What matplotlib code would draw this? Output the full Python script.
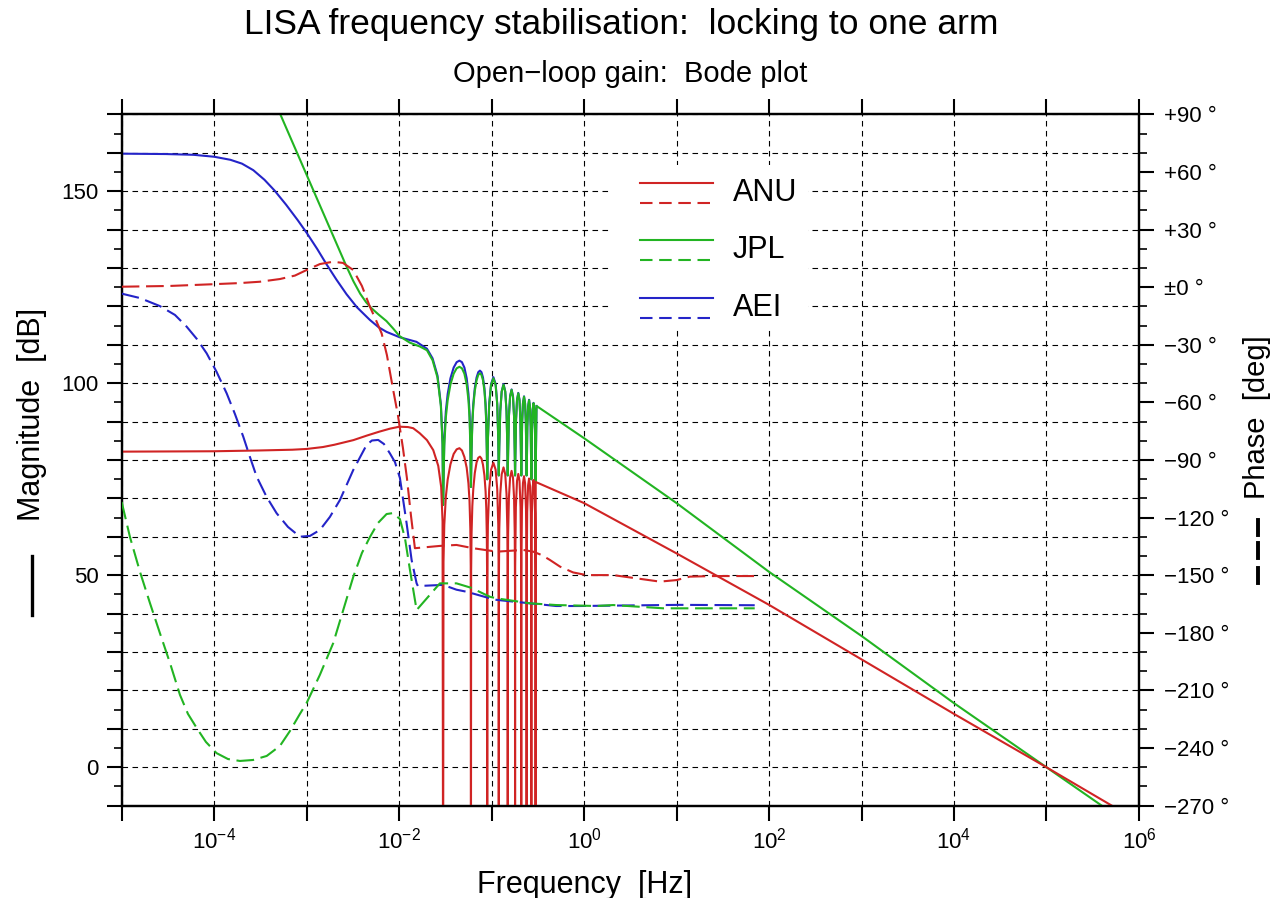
import numpy as np
import matplotlib
matplotlib.use("Agg")
import matplotlib.pyplot as plt
from matplotlib.ticker import FixedLocator, FuncFormatter, NullLocator, MultipleLocator
from matplotlib.lines import Line2D
from matplotlib.patches import Rectangle

plt.rcParams["font.family"] = ["Liberation Sans", "DejaVu Sans"]
plt.rcParams["mathtext.fontset"] = "custom"
plt.rcParams["mathtext.rm"] = "Liberation Sans"
plt.rcParams["mathtext.it"] = "Liberation Sans:italic"
plt.rcParams["mathtext.bf"] = "Liberation Sans:bold"

# ---------------------------------------------------------------- ANU (red)
anu_low_f = [1e-5, 1e-4, 3e-4, 7e-4, 1e-3, 1.5e-3, 2e-3, 3.2e-3, 4.5e-3, 6.1e-3, 8e-3,
             0.0101, 0.0125, 0.0142, 0.0167, 0.0200, 0.0234, 0.0265, 0.0285, 0.0295]
anu_low_db = [82.2, 82.3, 82.5, 82.7, 82.9, 83.4, 84.0, 85.2, 86.4, 87.4, 88.2,
              88.7, 88.6, 88.3, 87.0, 85.2, 82.6, 78.5, 73.0, 64.0]
anu_comb_f = [
    0.0299,
    0.0302, 0.0308, 0.0320, 0.0335, 0.0359, 0.0389, 0.0419, 0.0449, 0.0478, 0.0508,
    0.0538, 0.0562, 0.0577, 0.0589, 0.0595,
    0.0598,
    0.0601, 0.0607, 0.0619, 0.0634, 0.0658, 0.0688, 0.0718, 0.0748, 0.0777, 0.0807,
    0.0837, 0.0861, 0.0876, 0.0888, 0.0894,
    0.0897,
    0.0900, 0.0912, 0.0942, 0.0987, 0.1046, 0.1106, 0.1151, 0.1181, 0.1193,
    0.1196,
    0.1199, 0.1211, 0.1241, 0.1286, 0.1346, 0.1405, 0.1450, 0.1480, 0.1492,
    0.1495,
    0.1498, 0.1510, 0.1540, 0.1585, 0.1645, 0.1704, 0.1749, 0.1779, 0.1791,
    0.1794,
    0.1800, 0.1830, 0.1884, 0.1944, 0.2003, 0.2057, 0.2087,
    0.2093,
    0.2099, 0.2129, 0.2183, 0.2243, 0.2302, 0.2356, 0.2386,
    0.2392,
    0.2398, 0.2428, 0.2482, 0.2542, 0.2601, 0.2655, 0.2685,
    0.2691,
    0.2697, 0.2727, 0.2781, 0.2841, 0.2900, 0.2954, 0.2984,
    0.2990,
]
anu_comb_db = [
    -40,
    53.5, 63.1, 70.4, 74.9, 78.9, 81.6, 82.8, 83.1, 82.5, 80.8,
    78.0, 73.9, 69.4, 62.1, 52.5,
    -40,
    51.1, 60.7, 68.0, 72.5, 76.6, 79.4, 80.6, 80.9, 80.4, 78.8,
    76.0, 71.9, 67.4, 60.1, 50.5,
    -40,
    49.2, 63.2, 72.4, 77.5, 79.3, 77.5, 72.4, 63.2, 49.2,
    -40,
    48.0, 62.0, 71.2, 76.3, 78.1, 76.3, 71.2, 62.0, 48.0,
    -40,
    47.1, 61.1, 70.3, 75.4, 77.2, 75.4, 70.3, 61.1, 47.1,
    -40,
    52.4, 67.7, 74.6, 76.4, 74.6, 67.7, 52.4,
    -40,
    51.8, 67.1, 74.0, 75.8, 74.0, 67.1, 51.8,
    -40,
    51.2, 66.5, 73.4, 75.2, 73.4, 66.5, 51.2,
    -40,
    50.8, 66.1, 73.0, 74.8, 73.0, 66.1, 50.8,
    -40,
]
anu_high_f = [0.300, 1.0, 10.0, 100.0, 1e3, 1e4, 1e5, 6e5]
anu_high_db = [74.3, 68.8, 55.7, 42.3, 28.1, 13.9, 0.0, -11.0]

anu_phase_f = [1e-5, 3.33e-5, 9.7e-5, 1.9e-4, 3.13e-4, 5.14e-4, 7.47e-4, 1.0e-3,
               1.392e-3, 1.925e-3, 2.47e-3, 3.19e-3, 3.96e-3, 4.83e-3, 5.61e-3,
               6.47e-3, 7.38e-3, 8.63e-3, 9.7e-3, 0.0110, 0.01215, 0.01341, 0.01482,
               0.0276, 0.0417, 0.0632, 0.1135, 0.2196, 0.2816, 0.35, 0.4267, 0.55,
               0.76, 1.06, 2.06, 3.7, 6.6, 10.0, 13.9, 24.9, 70.0]
anu_phase_deg = [0.3, 0.7, 1.6, 2.2, 2.9, 4.3, 6.1, 9.0,
                 12.1, 13.3, 12.7, 9.0, 0.7, -10.1, -17.0,
                 -24.0, -35.3, -53.5, -66.5, -83.7, -99.4, -118.6, -135.9,
                 -134.7, -134.2, -135.9, -137.7, -136.8, -137.7, -139.5, -142.0, -145.5,
                 -148.5, -149.9, -149.9, -151.6, -153.3, -152.5, -150.7, -150.4, -150.4]

# ---------------------------------------------------------------- JPL (green)
jpl_low_f = [4.0e-4, 5.14e-4, 1.18e-3, 2.7e-3, 3.2e-3, 3.8e-3, 4.4e-3, 5.0e-3, 6.0e-3,
             7.3e-3, 8.6e-3, 0.0101, 0.0130, 0.0167, 0.0200, 0.0230, 0.0260, 0.0283,
             0.0295]
jpl_low_db = [176.3, 170.3, 150.3, 130.4, 126.6, 123.3, 121.1, 119.6, 117.9,
              116.2, 114.3, 112.3, 110.6, 109.6, 108.6, 106.0, 101.5, 94.0,
              84.0]
jpl_comb_f = [
    0.0299,
    0.0308, 0.0320, 0.0335, 0.0359, 0.0389, 0.0419, 0.0449, 0.0478, 0.0508, 0.0538,
    0.0562, 0.0577, 0.0589,
    0.0598,
    0.0607, 0.0619, 0.0634, 0.0658, 0.0688, 0.0718, 0.0748, 0.0777, 0.0807, 0.0837,
    0.0861, 0.0876, 0.0888,
    0.0897,
    0.0912, 0.0942, 0.0987, 0.1046, 0.1106, 0.1151, 0.1181,
    0.1196,
    0.1211, 0.1241, 0.1286, 0.1346, 0.1405, 0.1450, 0.1480,
    0.1495,
    0.1510, 0.1540, 0.1585, 0.1645, 0.1704, 0.1749, 0.1779,
    0.1794,
    0.1809, 0.1839, 0.1884, 0.1944, 0.2003, 0.2048, 0.2078,
    0.2093,
    0.2108, 0.2138, 0.2183, 0.2243, 0.2302, 0.2347, 0.2377,
    0.2392,
    0.2407, 0.2437, 0.2482, 0.2542, 0.2601, 0.2646, 0.2676,
    0.2691,
    0.2706, 0.2736, 0.2781, 0.2841, 0.2900, 0.2945, 0.2975,
    0.2990,
]
jpl_comb_db = [
    68.3,
    83.8, 91.1, 95.6, 99.7, 102.5, 103.9, 104.3, 103.9, 102.5, 99.7,
    95.6, 91.1, 83.8,
    73.0,
    82.1, 89.4, 93.9, 98.0, 100.8, 102.2, 102.6, 102.2, 100.8, 98.0,
    93.9, 89.4, 82.1,
    75.0,
    85.2, 94.4, 99.5, 101.3, 99.5, 94.4, 85.2,
    76.0,
    83.5, 92.7, 97.8, 99.6, 97.8, 92.7, 83.5,
    76.0,
    82.2, 91.4, 96.5, 98.3, 96.5, 91.4, 82.2,
    76.0,
    81.3, 90.5, 95.6, 97.4, 95.6, 90.5, 81.3,
    76.0,
    80.4, 89.6, 94.7, 96.5, 94.7, 89.6, 80.4,
    76.0,
    79.5, 88.7, 93.8, 95.6, 93.8, 88.7, 79.5,
    75.0,
    78.7, 87.9, 93.0, 94.8, 93.0, 87.9, 78.7,
    74.4,
]
jpl_high_f = [0.306, 1.0, 10.0, 100.0, 1e3, 1e4, 1e5, 6e5]
jpl_high_db = [94.1, 85.7, 68.8, 50.9, 34.2, 16.7, 0.0, -13.0]

jpl_phase_f = [1e-5, 1.23e-5, 1.58e-5, 2.02e-5, 2.59e-5, 3.33e-5, 4.27e-5, 5.21e-5,
               6.47e-5, 8.15e-5, 1.06e-4, 1.41e-4, 1.9e-4, 2.63e-4, 3.7e-4, 5.14e-4,
               6.6e-4, 8.46e-4, 1.0e-3, 1.39e-3, 1.94e-3, 2.47e-3, 3.19e-3, 3.96e-3,
               4.83e-3, 5.9e-3, 7.32e-3, 8.57e-3, 0.0102, 0.01156, 0.0131, 0.01546,
               0.0276, 0.0417, 0.060, 0.096, 0.113, 0.26, 0.5, 1.36, 2.06, 7.2, 10.8, 70.0]
jpl_phase_deg = [-111.8, -130.1, -148.3, -164.4, -180.1, -195.7, -212.3, -222.2,
                 -229.5, -236.8, -242.6, -245.7, -246.7, -246.2, -244.1, -238.9,
                 -231.1, -222.2, -216.5, -201.9, -185.3, -168.6, -150.9, -138.4,
                 -130.1, -122.8, -118.1, -117.6, -120.7, -130.6, -147.2, -168.1,
                 -154.2, -154.2, -156.5, -161.2, -162.0, -164.6, -165.5, -166.0, -165.5,
                 -167.2, -167.2, -167.2]

# ---------------------------------------------------------------- AEI (blue)
aei_low_f = [1e-5, 3e-5, 6e-5, 1e-4, 1.5e-4, 2e-4, 2.65e-4, 3.5e-4, 4.5e-4, 6e-4,
             8e-4, 1e-3, 1.3e-3, 1.64e-3, 2.1e-3, 2.7e-3, 3.5e-3, 4.83e-3, 6e-3,
             7.3e-3, 0.0101, 0.0154, 0.0200, 0.0230, 0.0260, 0.0283, 0.0295]
aei_low_db = [159.8, 159.7, 159.5, 159.0, 158.2, 157.2, 155.5, 153.0, 150.2, 146.5,
              142.5, 139.2, 135.0, 131.0, 127.0, 123.2, 119.8, 116.5, 114.6,
              113.4, 112.0, 110.8, 109.0, 106.5, 102.0, 94.5, 84.5]
aei_comb_f = [
    0.0299,
    0.0308, 0.0320, 0.0335, 0.0359, 0.0389, 0.0419, 0.0449, 0.0478, 0.0508, 0.0538,
    0.0562, 0.0577, 0.0589,
    0.0598,
    0.0607, 0.0619, 0.0634, 0.0658, 0.0688, 0.0718, 0.0748, 0.0777, 0.0807, 0.0837,
    0.0861, 0.0876, 0.0888,
    0.0897,
    0.0912, 0.0942, 0.0987, 0.1046, 0.1106, 0.1151, 0.1181,
    0.1196,
    0.1211, 0.1241, 0.1286, 0.1346, 0.1405, 0.1450, 0.1480,
    0.1495,
    0.1510, 0.1540, 0.1585, 0.1645, 0.1704, 0.1749, 0.1779,
    0.1794,
    0.1809, 0.1839, 0.1884, 0.1944, 0.2003, 0.2048, 0.2078,
    0.2093,
    0.2108, 0.2138, 0.2183, 0.2243, 0.2302, 0.2347, 0.2377,
    0.2392,
    0.2407, 0.2437, 0.2482, 0.2542, 0.2601, 0.2646, 0.2676,
    0.2691,
    0.2706, 0.2736, 0.2781, 0.2841, 0.2900, 0.2945, 0.2975,
    0.2990,
    0.306,
]
aei_comb_db = [
    68.3,
    85.4, 92.7, 97.2, 101.3, 104.1, 105.5, 105.9, 105.5, 104.1, 101.3,
    97.2, 92.7, 85.4,
    73.0,
    82.8, 90.1, 94.6, 98.7, 101.5, 102.9, 103.3, 102.9, 101.5, 98.7,
    94.6, 90.1, 82.8,
    75.0,
    85.5, 94.7, 99.8, 101.6, 99.8, 94.7, 85.5,
    76.0,
    83.6, 92.8, 97.9, 99.8, 97.9, 92.8, 83.6,
    76.0,
    82.3, 91.5, 96.6, 98.4, 96.6, 91.5, 82.3,
    76.0,
    81.4, 90.6, 95.7, 97.5, 95.7, 90.6, 81.4,
    76.0,
    80.5, 89.7, 94.8, 96.6, 94.8, 89.7, 80.5,
    76.0,
    79.6, 88.8, 93.9, 95.7, 93.9, 88.8, 79.6,
    75.0,
    78.8, 88.0, 93.1, 94.9, 93.1, 88.0, 78.8,
    74.4,
    94.1,
]

aei_phase_f = [1e-5, 1.577e-5, 2.594e-5, 3.77e-5, 5.04e-5, 6.52e-5, 8.3e-5, 1.064e-4,
               1.365e-4, 1.678e-4, 2.064e-4, 2.438e-4, 2.88e-4, 3.694e-4, 4.74e-4,
               6.28e-4, 8.46e-4, 1.086e-3, 1.392e-3, 1.785e-3, 2.291e-3, 3.19e-3,
               4.45e-3, 5.08e-3, 5.94e-3, 6.85e-3, 7.95e-3, 9.01e-3, 0.0102, 0.01205,
               0.01365, 0.01546, 0.01597, 0.0299, 0.0417, 0.054, 0.096, 0.113, 0.26,
               0.5, 0.9, 10.8, 70.0]
aei_phase_deg = [-3.3, -5.6, -9.8, -14.4, -20.5, -27.0, -34.4, -44.1,
                 -55.2, -66.0, -77.8, -88.4, -98.6, -109.2, -117.7,
                 -124.8, -129.9, -129.5, -126.4, -119.6, -110.8, -95.2,
                 -82.1, -79.8, -79.5, -81.6, -86.5, -91.0, -99.3, -122.9,
                 -142.0, -154.2, -155.6, -155.0, -157.5, -158.6, -162.0, -162.8, -164.6,
                 -166.0, -166.0, -165.4, -165.6]

labels = ["ANU", "JPL", "AEI"]
colors = {"ANU": "#d02424", "JPL": "#22b422", "AEI": "#2424c8"}

decades = [10.0 ** k for k in range(-5, 7)]

# ---------------------------------------------------------------- figure
fig = plt.figure(figsize=(12.74, 8.98), dpi=100)
ax = fig.add_axes([0.0955, 0.1028, 0.7985, 0.7697])
ax.set_xscale("log")
ax.set_xlim(1e-5, 1e6)
ax.set_ylim(-10, 170)

ax2 = ax.twinx()
ax2.set_ylim(-270, 90)

LW = 1.5
DASH = (0, (8.5, 3.2))

# magnitude (solid)
ax.plot(aei_low_f + aei_comb_f, aei_low_db + aei_comb_db, color=colors["AEI"], lw=LW, zorder=3)
ax.plot(jpl_low_f + jpl_comb_f + jpl_high_f, jpl_low_db + jpl_comb_db + jpl_high_db,
        color=colors["JPL"], lw=LW, zorder=4)
ax.plot(anu_low_f + anu_comb_f + anu_high_f, anu_low_db + anu_comb_db + anu_high_db,
        color=colors["ANU"], lw=LW, zorder=5)

# phase (dashed)
ax2.plot(aei_phase_f, aei_phase_deg, color=colors["AEI"], lw=LW, ls=DASH, zorder=3)
ax2.plot(jpl_phase_f, jpl_phase_deg, color=colors["JPL"], lw=LW, ls=DASH, zorder=4)
ax2.plot(anu_phase_f, anu_phase_deg, color=colors["ANU"], lw=LW, ls=DASH, zorder=5)

# grid
ax.grid(True, which="major", axis="both", color="black", lw=0.8, ls=(0, (5, 4)))
ax.set_axisbelow(True)

# x axis: decade ticks, labels on even powers
ax.xaxis.set_major_locator(FixedLocator(decades))
ax.xaxis.set_minor_locator(NullLocator())


def xfmt(v, pos):
    k = int(round(np.log10(v)))
    return r"$10^{%d}$" % k if k % 2 == 0 else ""


ax.xaxis.set_major_formatter(FuncFormatter(xfmt))

# left axis: magnitude
ax.yaxis.set_major_locator(MultipleLocator(10))
ax.yaxis.set_minor_locator(MultipleLocator(5))
ax.yaxis.set_major_formatter(FuncFormatter(
    lambda v, pos: "%d" % v if (abs(v % 50) < 1e-6 and 0 <= v <= 150) else ""))

# right axis: phase
ax2.yaxis.set_major_locator(MultipleLocator(30))
ax2.yaxis.set_minor_locator(MultipleLocator(10))


def pfmt(v, pos):
    v = int(round(v))
    if v > 0:
        return "+%d °" % v
    if v == 0:
        return "±0 °"
    return "\u2212%d °" % (-v)


ax2.yaxis.set_major_formatter(FuncFormatter(pfmt))

ax.tick_params(axis="x", which="major", top=True, bottom=True, direction="out",
               length=10.8, width=1.5, labelsize=16, pad=5)
ax.tick_params(axis="y", which="major", left=True, right=False, direction="out",
               length=10.8, width=1.5, labelsize=16, pad=6)
ax.tick_params(axis="y", which="minor", left=True, right=False, direction="out",
               length=5.8, width=1.2)
ax2.tick_params(axis="y", which="major", direction="out", length=10.8, width=1.5,
                labelsize=16, pad=7)
ax2.tick_params(axis="y", which="minor", direction="out", length=5.8, width=1.2)

for a in (ax, ax2):
    for sp in a.spines.values():
        sp.set_linewidth(1.6)

# legend: solid = magnitude, dashed = phase
ax2.add_patch(Rectangle((0.482, 0.688), 0.193, 0.239, transform=ax2.transAxes,
                        facecolor="white", edgecolor="none", zorder=8))
leg_rows = [(0.9015, 0.8725, 0.8870), (0.8185, 0.7900, 0.8040), (0.7346, 0.7057, 0.7200)]
for name, (ys, yd, yt) in zip(labels, leg_rows):
    ax2.add_line(Line2D([0.5096, 0.5810], [ys, ys], transform=ax2.transAxes,
                        color=colors[name], lw=LW, zorder=9))
    ax2.add_line(Line2D([0.5096, 0.5810], [yd, yd], transform=ax2.transAxes,
                        color=colors[name], lw=LW, ls=(0, (6.0, 3.2)), zorder=9))
    ax2.text(0.601, yt, name, transform=ax2.transAxes, fontsize=22,
             va="center", ha="left", zorder=9)

# titles and axis labels
fig.text(0.4874, 0.9722, "LISA frequency stabilisation:  locking to one arm",
         fontsize=25.5, ha="center", va="center")
fig.text(0.4945, 0.9176, "Open\u2212loop gain:  Bode plot", fontsize=21,
         ha="center", va="center")
fig.text(0.4592, 0.0145, "Frequency  [Hz]", fontsize=22, ha="center", va="center")
fig.text(0.0251, 0.539, "Magnitude  [dB]", fontsize=22, rotation=90,
         ha="center", va="center")
fig.text(0.9867, 0.5356, "Phase  [deg]", fontsize=21, rotation=90,
         ha="center", va="center")

# line-style keys next to the axis labels
fig.add_artist(Line2D([32 / 1274, 32 / 1274], [1 - 556 / 898, 1 - 615 / 898],
                      transform=fig.transFigure, color="black", lw=2.4))
for y0, y1 in [(520, 535), (543, 558), (568, 583)]:
    fig.add_artist(Line2D([1258 / 1274, 1258 / 1274], [1 - y0 / 898, 1 - y1 / 898],
                          transform=fig.transFigure, color="black", lw=2.8))

fig.savefig("out.png", dpi=100)
